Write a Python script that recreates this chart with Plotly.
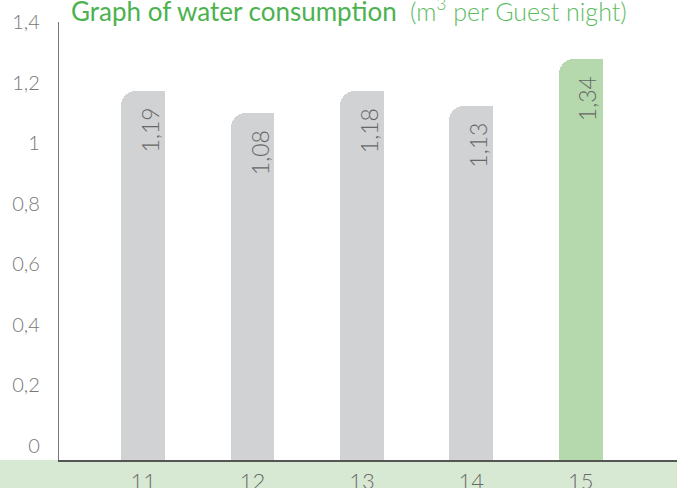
import plotly.graph_objects as go

# ---- data ----
years = ["11", "12", "13", "14", "15"]
bar_heights = [1.22, 1.146, 1.22, 1.17, 1.325]   # heights as drawn in the chart
value_labels = ["1,19", "1,08", "1,18", "1,13", "1,34"]
bar_colors = ["#d1d2d4", "#d1d2d4", "#d1d2d4", "#d1d2d4", "#b5d8ad"]
y_tick_vals = [0, 0.2, 0.4, 0.6, 0.8, 1.0, 1.2, 1.4]
y_tick_text = ["0", "0,2", "0,4", "0,6", "0,8", "1", "1,2", "1,4"]

FONT = "Lato"
GREEN = "#4cb24f"

fig = go.Figure()
# full-width bar with rounded top corners
fig.add_trace(go.Bar(
    x=years, y=bar_heights, width=0.4,
    marker=dict(color=bar_colors, cornerradius=15, line=dict(width=0)),
    hoverinfo="skip", showlegend=False,
))
# right half square, so only the top-left corner stays rounded
fig.add_trace(go.Bar(
    x=years, y=bar_heights, width=0.2, offset=0,
    marker=dict(color=bar_colors, line=dict(width=0)),
    hoverinfo="skip", showlegend=False,
))

for i, (h, t) in enumerate(zip(bar_heights, value_labels)):
    fig.add_annotation(
        x=i, y=h, xref="x", yref="y", text=t, textangle=-90, showarrow=False,
        xanchor="center", yanchor="top", yshift=-15, xshift=7,
        font=dict(family=FONT, size=23, color="#676767", weight=300),
    )

fig.update_layout(
    width=677, height=488,
    margin=dict(l=59, r=0, t=22, b=28, autoexpand=False),
    paper_bgcolor="white", plot_bgcolor="white",
    barmode="overlay", bargap=0,
    font=dict(family=FONT),
    title=dict(
        text="Graph of water consumption  "
             "<span style='font-weight:300;font-size:25px;color:#5cbc5f'>(m<sup>3</sup> per Guest night)</span>",
        x=71 / 677, xanchor="left", y=0.995, yanchor="top",
        pad=dict(t=0, l=0),
        font=dict(family=FONT, size=26, color=GREEN, weight=400),
    ),
    xaxis=dict(
        type="category", range=[-0.77, 4.88], automargin=False,
        showline=True, linecolor="#555555", linewidth=1.5,
        showgrid=False, zeroline=False, ticks="",
        tickfont=dict(family=FONT, size=22, color="#6a6a6a", weight=300),
        ticklabelstandoff=1,
    ),
    yaxis=dict(
        range=[0, 1.447], automargin=False,
        showline=True, linecolor="#777777", linewidth=1.3,
        showgrid=False, zeroline=False, ticks="",
        tickvals=y_tick_vals, ticktext=y_tick_text,
        tickfont=dict(family=FONT, size=20, color="#777777", weight=300),
        ticklabelstandoff=14, ticklabelshift=-14,
    ),
    shapes=[dict(
        type="rect", xref="paper", yref="paper",
        x0=-0.1, x1=1.01, y0=-0.08, y1=0,
        fillcolor="#d7e9d3", line=dict(width=0), layer="below",
    )],
)

fig.write_html(
    "out.html",
    config={"displayModeBar": False},
    post_script="document.body.style.margin='0';document.body.style.overflow='hidden';",
)
